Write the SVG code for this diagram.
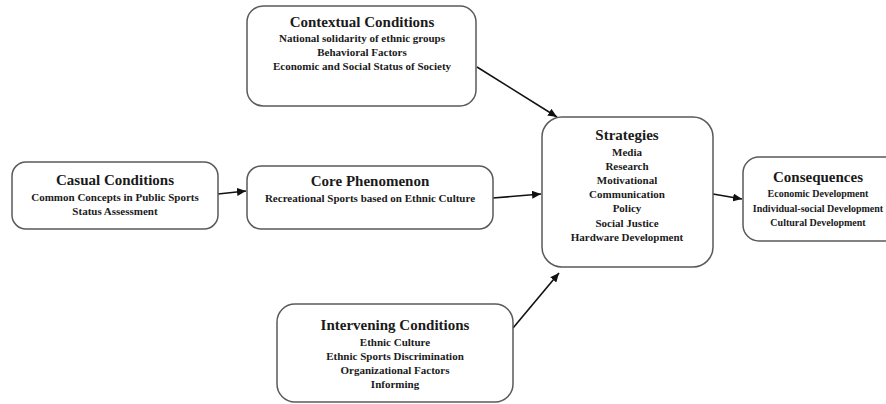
<svg xmlns="http://www.w3.org/2000/svg" width="886" height="404" viewBox="0 0 886 404">
<style>
.box{fill:#fff;stroke:#5a5a5a;stroke-width:1.5}
.t{font-family:"Liberation Serif","Times New Roman",serif;font-weight:bold;fill:#1a1a1a;text-anchor:middle}
.h{font-size:15px}
.s{font-size:11px}
.c{font-size:10px}
.edge{stroke:#111;stroke-width:1.6;fill:none;marker-end:url(#ah)}
</style>
<defs>
<marker id="ah" markerUnits="userSpaceOnUse" markerWidth="10" markerHeight="8" refX="9" refY="4" orient="auto">
<path d="M0,0 L9,4 L0,8 Z" fill="#111"/>
</marker>
</defs>
<rect width="886" height="404" fill="#fff"/>
<g id="connectors">
<line class="edge" x1="218" y1="194" x2="246" y2="191"/>
<line class="edge" x1="493" y1="198" x2="541" y2="194"/>
<line class="edge" x1="477" y1="67" x2="557" y2="117"/>
<line class="edge" x1="513" y1="328" x2="559" y2="273"/>
<line class="edge" x1="713" y1="194" x2="742" y2="199"/>
</g>
<g id="contextual">
<rect class="box" x="247" y="6" width="229" height="100" rx="16"/>
<text class="t h" x="362" y="27">Contextual Conditions</text>
<text class="t s" x="362" y="42">National solidarity of ethnic groups</text>
<text class="t s" x="362" y="56">Behavioral Factors</text>
<text class="t s" x="362" y="70">Economic and Social Status of Society</text>
</g>
<g id="casual">
<rect class="box" x="12" y="162" width="206" height="67" rx="14"/>
<text class="t h" x="115" y="185">Casual Conditions</text>
<text class="t s" x="115" y="201">Common  Concepts in Public Sports</text>
<text class="t s" x="115" y="215">Status Assessment</text>
</g>
<g id="core">
<rect class="box" x="247" y="166" width="246" height="63" rx="14"/>
<text class="t h" x="370" y="186">Core Phenomenon</text>
<text class="t s" x="370" y="202">Recreational Sports based on Ethnic Culture</text>
</g>
<g id="strategies">
<rect class="box" x="542" y="117" width="171" height="150" rx="20"/>
<text class="t h" x="627" y="140">Strategies</text>
<text class="t s" x="627" y="156">Media</text>
<text class="t s" x="627" y="170">Research</text>
<text class="t s" x="627" y="184">Motivational</text>
<text class="t s" x="627" y="198">Communication</text>
<text class="t s" x="627" y="212">Policy</text>
<text class="t s" x="627" y="227">Social Justice</text>
<text class="t s" x="627" y="241">Hardware Development</text>
</g>
<g id="consequences">
<rect class="box" x="743" y="157" width="160" height="84" rx="16"/>
<text class="t h" x="818" y="182">Consequences</text>
<text class="t c" x="818" y="197">Economic Development</text>
<text class="t c" x="818" y="212">Individual-social Development</text>
<text class="t c" x="818" y="226">Cultural Development</text>
</g>
<g id="intervening">
<rect class="box" x="277" y="304" width="236" height="98" rx="18"/>
<text class="t h" x="395" y="330">Intervening Conditions</text>
<text class="t s" x="395" y="346">Ethnic Culture</text>
<text class="t s" x="395" y="360">Ethnic Sports Discrimination</text>
<text class="t s" x="395" y="374">Organizational Factors</text>
<text class="t s" x="395" y="388">Informing</text>
</g>
</svg>
